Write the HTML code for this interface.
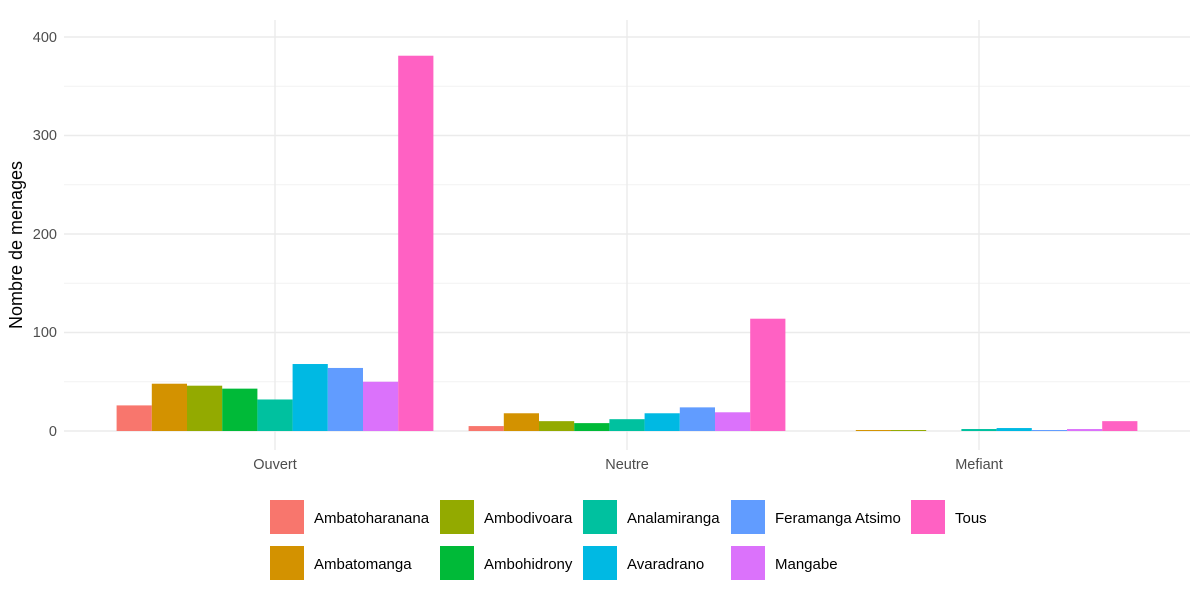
<!DOCTYPE html><html><head><meta charset="utf-8"><style>body{margin:0;background:#fff}svg{display:block;font-family:"Liberation Sans",sans-serif}</style></head><body>
<svg width="1200" height="600" xmlns="http://www.w3.org/2000/svg">
<g stroke="#F2F2F2" stroke-width="1">
<line x1="64" x2="1190" y1="381.8" y2="381.8"/><line x1="64" x2="1190" y1="283.3" y2="283.3"/><line x1="64" x2="1190" y1="184.8" y2="184.8"/><line x1="64" x2="1190" y1="86.3" y2="86.3"/>
</g>
<g stroke="#EBEBEB" stroke-width="1.4">
<line x1="64" x2="1190" y1="431" y2="431"/><line x1="64" x2="1190" y1="332.5" y2="332.5"/><line x1="64" x2="1190" y1="234" y2="234"/><line x1="64" x2="1190" y1="135.5" y2="135.5"/><line x1="64" x2="1190" y1="37" y2="37"/>
<line x1="275" x2="275" y1="20" y2="450"/><line x1="627" x2="627" y1="20" y2="450"/><line x1="979" x2="979" y1="20" y2="450"/>
</g>
<g id="bars"></g>
<g font-size="14.5" fill="#4D4D4D" text-anchor="end">
<text x="57" y="436">0</text><text x="57" y="337">100</text><text x="57" y="239">200</text><text x="57" y="140">300</text><text x="57" y="42">400</text>
</g>
<g font-size="14.5" fill="#4D4D4D" text-anchor="middle">
<text x="275" y="469">Ouvert</text><text x="627" y="469">Neutre</text><text x="979" y="469">Mefiant</text>
</g>
<text transform="translate(22,245) rotate(-90)" font-size="18" text-anchor="middle" fill="#000">Nombre de menages</text>
<g font-size="15" fill="#000">
<rect x="270" y="500" width="34" height="34" fill="#F8766D"/><text x="314" y="523">Ambatoharanana</text>
<rect x="270" y="546" width="34" height="34" fill="#D39200"/><text x="314" y="569">Ambatomanga</text>
<rect x="440" y="500" width="34" height="34" fill="#93AA00"/><text x="484" y="523">Ambodivoara</text>
<rect x="440" y="546" width="34" height="34" fill="#00BA38"/><text x="484" y="569">Ambohidrony</text>
<rect x="583" y="500" width="34" height="34" fill="#00C19F"/><text x="627" y="523">Analamiranga</text>
<rect x="583" y="546" width="34" height="34" fill="#00B9E3"/><text x="627" y="569">Avaradrano</text>
<rect x="731" y="500" width="34" height="34" fill="#619CFF"/><text x="775" y="523">Feramanga Atsimo</text>
<rect x="731" y="546" width="34" height="34" fill="#DB72FB"/><text x="775" y="569">Mangabe</text>
<rect x="911" y="500" width="34" height="34" fill="#FF61C3"/><text x="955" y="523">Tous</text>
</g>
<script>
var c=["#F8766D","#D39200","#93AA00","#00BA38","#00C19F","#00B9E3","#619CFF","#DB72FB","#FF61C3"];
var d=[[26,48,46,43,32,68,64,50,381],[5,18,10,8,12,18,24,19,114],[0,1,1,0,2,3,1,2,10]];
var ctr=[275,627,979],w=35.2,g=document.getElementById("bars");
d.forEach(function(r,i){r.forEach(function(v,j){if(!v)return;var h=v*0.985,x=ctr[i]-158.4+j*w;
var e=document.createElementNS("http://www.w3.org/2000/svg","rect");e.setAttribute("x",x);e.setAttribute("y",431-h);e.setAttribute("width",w);e.setAttribute("height",h);e.setAttribute("fill",c[j]);g.appendChild(e);});});
</script>
</svg></body></html>
